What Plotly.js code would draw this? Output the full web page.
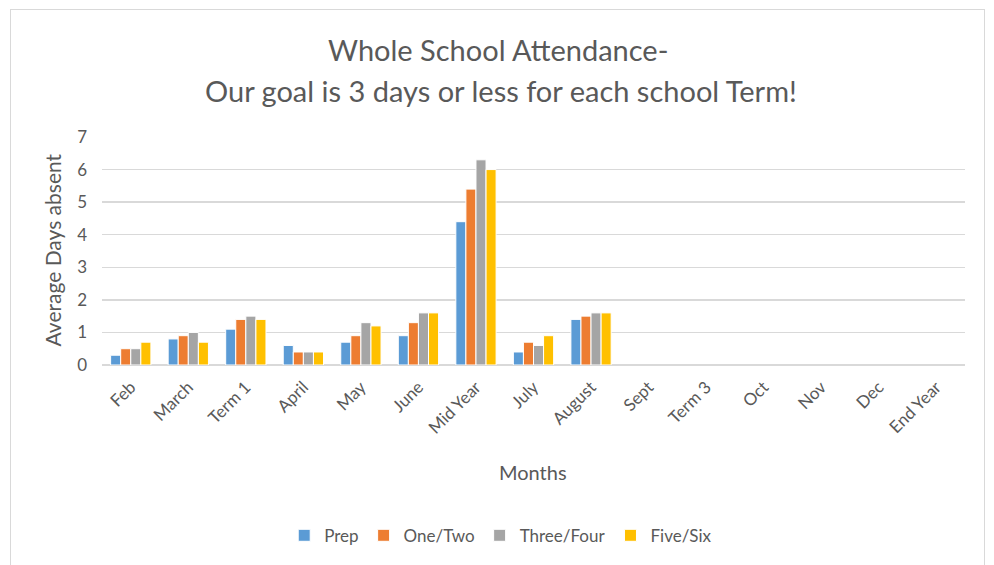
<!DOCTYPE html>
<html><head><meta charset="utf-8">
<script src="https://cdn.plot.ly/plotly-3.0.1.min.js"></script>
<style>
html,body{margin:0;padding:0;background:#fff;}
#frame{position:absolute;left:10px;top:9px;width:975px;height:570px;border:1px solid #d9d9d9;box-sizing:border-box;}
#chart{position:absolute;left:0;top:0;width:994px;height:565px;}
</style></head>
<body><div id="frame"></div><div id="chart"></div>
<script>
const months = ["Feb","March","Term 1","April","May","June","Mid Year","July","August","Sept","Term 3","Oct","Nov","Dec","End Year"];
const prep = [0.3,0.8,1.1,0.6,0.7,0.9,4.4,0.4,1.4,null,null,null,null,null,null];
const oneTwo = [0.5,0.9,1.4,0.4,0.9,1.3,5.4,0.7,1.5,null,null,null,null,null,null];
const threeFour = [0.5,1.0,1.5,0.4,1.3,1.6,6.3,0.6,1.6,null,null,null,null,null,null];
const fiveSix = [0.7,0.7,1.4,0.4,1.2,1.6,6.0,0.9,1.6,null,null,null,null,null,null];
const seriesNames = ["Prep","One/Two","Three/Four","Five/Six"];
const colors = ["#5b9bd5","#ed7d31","#a5a5a5","#ffc000"];
const titleLines = ["Whole School Attendance-","Our goal is 3 days or less for each school Term!"];
const series = [prep, oneTwo, threeFour, fiveSix];
const font = "Lato, 'Open Sans', sans-serif";
const traces = series.map((s,i)=>({
  type:"bar", x:months, y:s, name:seriesNames[i],
  marker:{color:colors[i], line:{color:"#ffffff", width:1}},
  hoverinfo:"x+y+name"
}));
const ph = 231;
const layout = {
  width:994, height:565,
  margin:{l:102, r:29, t:137, b:197},
  paper_bgcolor:"rgba(0,0,0,0)", plot_bgcolor:"rgba(0,0,0,0)",
  font:{family:font, color:"#595959", size:15},
  barmode:"group", bargap:0.3, bargroupgap:0.0,
  xaxis:{type:"category", tickangle:-45, tickfont:{size:17, color:"#595959"}, showgrid:false,
    showline:false, zeroline:false, ticks:"", ticklabelstandoff:8},
  yaxis:{range:[0,7], dtick:1, tickfont:{size:17, color:"#595959"}, gridcolor:"#d9d9d9", gridwidth:1.5,
    zeroline:true, zerolinecolor:"#d9d9d9", zerolinewidth:1.5, showline:false, ticks:"", ticklabelstandoff:14},
  showlegend:true,
  legend:{orientation:"h", x:0.462, xanchor:"center", y:-(541-368)/ph, yanchor:"middle",
    font:{size:17, color:"#595959"}, itemwidth:30, tracegroupgap:0},
  annotations:[
    {text:titleLines[0], xref:"paper", yref:"paper", x:(498-102)/863, y:(368-48)/ph, xanchor:"center", yanchor:"middle",
      showarrow:false, font:{size:29, color:"#595959"}},
    {text:titleLines[1], xref:"paper", yref:"paper", x:(501-102)/863, y:(368-90)/ph, xanchor:"center", yanchor:"middle",
      showarrow:false, font:{size:29, color:"#595959"}},
    {text:"Months", xref:"paper", yref:"paper", x:(533-102)/863, y:-(476-368)/ph, xanchor:"center", yanchor:"middle",
      showarrow:false, font:{size:20, color:"#595959"}},
    {text:"Average Days absent", xref:"paper", yref:"paper", x:-(102-53)/863, y:(368-252)/ph, xanchor:"center", yanchor:"middle",
      textangle:-90, showarrow:false, font:{size:21, color:"#595959"}}
  ]
};
Plotly.newPlot("chart", traces, layout, {displayModeBar:false, staticPlot:true});
</script></body></html>
